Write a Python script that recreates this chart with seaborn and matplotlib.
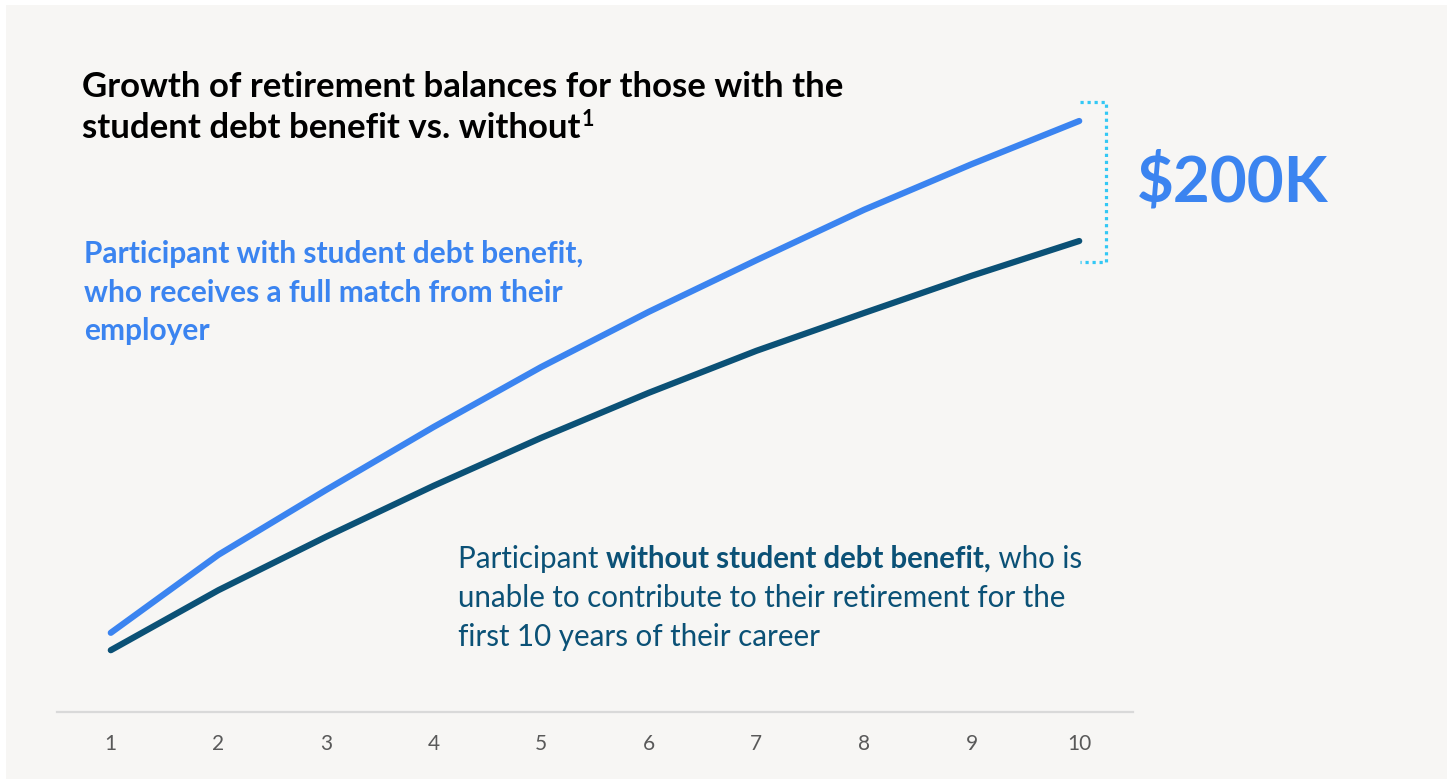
import numpy as np
import pandas as pd
import seaborn as sns
import matplotlib.pyplot as plt
from matplotlib.patches import Rectangle

# Retirement balance ($K) by year of career
years = [1, 2, 3, 4, 5, 6, 7, 8, 9, 10]
with_benefit = [132, 262, 370, 475, 575, 667, 753, 837, 913, 985]
without_benefit = [103, 203, 292, 377, 457, 532, 602, 665, 727, 785]
series_names = ["With student debt benefit", "Without student debt benefit"]
tick_labels = [str(y) for y in years]

LIGHT = "#3b84f0"
DARK = "#0b5176"
BRACKET = "#33c8f5"
BG = "#f7f6f4"
FONT = "Lato"

W, H = 1447, 779
sns.set_theme(style="white")
plt.rcParams["font.family"] = [FONT, "DejaVu Sans"]

fig = plt.figure(figsize=(W / 100, H / 100), dpi=100, facecolor="white")
fig.patches.append(Rectangle((6 / W, 0), 1, 1 - 5 / H, transform=fig.transFigure,
                             facecolor=BG, edgecolor="none", zorder=-10))

# axes placed in pixel terms
ax_left, ax_right, ax_bottom, ax_top = 57, 1133, 712, 45
ax = fig.add_axes([ax_left / W, 1 - ax_bottom / H, (ax_right - ax_left) / W,
                   (ax_bottom - ax_top) / H])
ax.set_facecolor("none")

df = pd.DataFrame({
    "year": years * 2,
    "balance": with_benefit + without_benefit,
    "series": [series_names[0]] * len(years) + [series_names[1]] * len(years),
})
sns.lineplot(data=df, x="year", y="balance", hue="series",
             palette={series_names[0]: LIGHT, series_names[1]: DARK},
             linewidth=4.5, solid_capstyle="round", solid_joinstyle="round",
             legend=False, ax=ax)

px_per_k = 120 / 200
ax.set_xlim(0.5, 10.5)
ax.set_ylim(0, (ax_bottom - ax_top) / px_per_k)
ax.set_xticks(years)
ax.set_xticklabels(tick_labels, fontsize=15, color="#595959")
ax.set_yticks([])
ax.set_xlabel("")
ax.set_ylabel("")
for s in ["left", "right", "top"]:
    ax.spines[s].set_visible(False)
ax.spines["bottom"].set_color("#d9d9d9")
ax.spines["bottom"].set_linewidth(1.6)
ax.tick_params(axis="x", length=0, pad=16)

# dotted bracket spanning the final-year gap
gap = with_benefit[-1] - without_benefit[-1]
bx0, bx1 = years[-1] + 0.01, years[-1] + 0.25
btop, bbot = with_benefit[-1] + 32, without_benefit[-1] - 35
ax.plot([bx0, bx1, bx1, bx0], [btop, btop, bbot, bbot], linestyle=(0, (1, 1.2)),
        color=BRACKET, linewidth=2.3, clip_on=False)

renderer = fig.canvas.get_renderer()


def fit_size(text, width_px, weight="normal", base=20):
    t = fig.text(0, 0, text, fontsize=base, fontweight=weight)
    w = t.get_window_extent(renderer).width
    t.remove()
    return base * width_px / w


def put(x_px, y_px, text, size, color, weight="normal", **kw):
    return fig.text(x_px / W, 1 - y_px / H, text, fontsize=size, color=color,
                    fontweight=weight, va="baseline", ha="left", **kw)


def runs(x_px, y_px, parts, size, color):
    x = x_px
    for txt, weight in parts:
        t = put(x, y_px, txt, size, color, weight)
        x += t.get_window_extent(renderer).width
    return x


# title
title1 = "Growth of retirement balances for those with the"
title2 = "student debt benefit vs. without"
ts = fit_size(title1, 761, "bold")
put(82, 97, title1, ts, "black", "bold")
end = runs(82, 138, [(title2, "bold")], ts, "black")
put(end + 1, 126, "1", ts * 0.62, "black", "bold")

# annotation for the upper line
blue_lines = ["Participant with student debt benefit,",
              "who receives a full match from their",
              "employer"]
bs = fit_size(blue_lines[0], 500, "bold")
for i, line in enumerate(blue_lines):
    put(84, 263 + i * 38.5, line, bs, LIGHT, "bold")

# annotation for the lower line
ds = fit_size("unable to contribute to their retirement for the", 611)
runs(458, 568, [("Participant ", "normal"), ("without student debt benefit,", "bold"),
                (" who is", "normal")], ds, DARK)
put(458, 607, "unable to contribute to their retirement for the", ds, DARK)
put(458, 646, "first 10 years of their career", ds, DARK)

# gap value label
label = f"${gap}K"
gs = fit_size(label, 192, "bold")
put(1137, 201, label, gs, LIGHT, "bold")

fig.savefig("out.png", dpi=100, facecolor="white")
